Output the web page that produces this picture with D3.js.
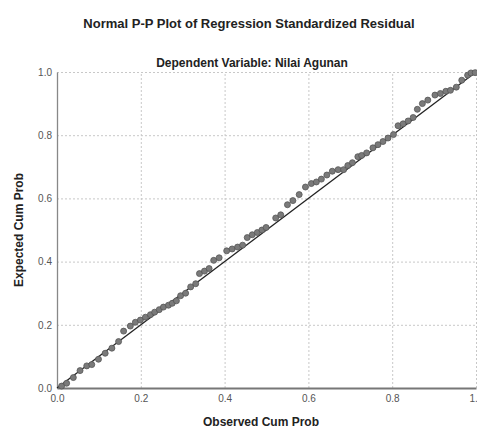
<!DOCTYPE html>
<html>
<head>
<meta charset="utf-8">
<script src="https://cdn.jsdelivr.net/npm/d3@7"></script>
<style>
  body { margin: 0; background: #fff; }
  text { font-family: "Liberation Sans", Arial, sans-serif; }
  .grid line { stroke: #c8c8c8; stroke-dasharray: 2,2; }
  .grid .domain { display: none; }
  .tick text { fill: #555; font-size: 10px; }
</style>
</head>
<body>
<div id="chart-area"></div>
<script>

// SVG size
var width = 477,
	height = 429;

// tick values on both axes
var tickValues = [0, 0.2, 0.4, 0.6, 0.8, 1.0];

// observed cum prob (x) and expected cum prob (y)
var observed = [0.011, 0.023, 0.039, 0.055, 0.071, 0.083, 0.099, 0.115, 0.131, 0.147,
	0.159, 0.175, 0.187, 0.199, 0.211, 0.223, 0.233, 0.244, 0.254, 0.266,
	0.275, 0.285, 0.295, 0.307, 0.319, 0.331, 0.340, 0.352, 0.363, 0.374,
	0.387, 0.405, 0.418, 0.431, 0.443, 0.454, 0.466, 0.478, 0.489, 0.499,
	0.522, 0.534, 0.550, 0.563, 0.578, 0.593, 0.607, 0.619, 0.631, 0.644,
	0.657, 0.671, 0.684, 0.694, 0.705, 0.718, 0.727, 0.739, 0.754, 0.766,
	0.778, 0.790, 0.803, 0.814, 0.826, 0.838, 0.850, 0.860, 0.872, 0.885,
	0.902, 0.915, 0.928, 0.939, 0.953, 0.966, 0.980, 0.988, 0.998];

var expected = [0.006, 0.015, 0.033, 0.055, 0.070, 0.074, 0.091, 0.110, 0.126, 0.147,
	0.180, 0.196, 0.208, 0.215, 0.224, 0.232, 0.240, 0.248, 0.256, 0.262,
	0.268, 0.276, 0.292, 0.300, 0.320, 0.330, 0.362, 0.370, 0.378, 0.404,
	0.412, 0.434, 0.440, 0.446, 0.452, 0.476, 0.485, 0.492, 0.500, 0.508,
	0.538, 0.548, 0.580, 0.593, 0.612, 0.636, 0.647, 0.652, 0.661, 0.674,
	0.686, 0.691, 0.691, 0.704, 0.713, 0.732, 0.736, 0.744, 0.760, 0.770,
	0.780, 0.791, 0.802, 0.830, 0.836, 0.845, 0.856, 0.882, 0.900, 0.911,
	0.927, 0.932, 0.939, 0.942, 0.952, 0.974, 0.990, 0.997, 0.998];

var points = observed.map(function (d, i) {
	return {x: d, y: expected[i]};
});

var margin = {top: 72, right: 1, bottom: 41, left: 57};
var w = width - margin.left - margin.right,
	h = height - margin.top - margin.bottom;

var svg = d3.select("#chart-area")
	.append("svg")
	.attr("width", width)
	.attr("height", height);

var g = svg.append("g")
	.attr("transform", "translate(" + margin.left + "," + margin.top + ")");

var xScale = d3.scaleLinear().domain([0, 1]).range([0, w]);
var yScale = d3.scaleLinear().domain([0, 1]).range([h, 0]);

// gridlines
g.append("g")
	.attr("class", "grid")
	.attr("transform", "translate(0," + h + ")")
	.call(d3.axisBottom(xScale).tickValues(tickValues.slice(1)).tickSize(-h).tickFormat(""));

g.append("g")
	.attr("class", "grid")
	.call(d3.axisLeft(yScale).tickValues(tickValues.slice(1)).tickSize(-w).tickFormat(""));

// axes
var xAxis = g.append("g")
	.attr("transform", "translate(0," + h + ")")
	.call(d3.axisBottom(xScale).tickValues(tickValues).tickSize(0).tickPadding(7)
		.tickFormat(d3.format(".1f")));
xAxis.select(".domain").attr("stroke", "#777").attr("stroke-width", 2);

var yAxis = g.append("g")
	.call(d3.axisLeft(yScale).tickValues(tickValues).tickSize(0).tickPadding(5)
		.tickFormat(d3.format(".1f")));
yAxis.select(".domain").attr("stroke", "#888").attr("stroke-width", 1.3);

// reference line
g.append("line")
	.attr("x1", xScale(0)).attr("y1", yScale(0))
	.attr("x2", xScale(1)).attr("y2", yScale(1))
	.attr("stroke", "#222")
	.attr("stroke-width", 1.3);

// points
g.selectAll("circle").data(points).enter()
	.append("circle")
	.attr("cx", function (d) {return xScale(d.x)})
	.attr("cy", function (d) {return yScale(d.y)})
	.attr("r", 3)
	.attr("fill", "#7a7a7a")
	.attr("stroke", "#555")
	.attr("stroke-width", 0.8);

// titles
svg.append("text")
	.attr("x", 249).attr("y", 28)
	.attr("text-anchor", "middle")
	.attr("font-size", "13px").attr("font-weight", "bold").attr("fill", "#222")
	.text("Normal P-P Plot of Regression Standardized Residual");

svg.append("text")
	.attr("x", 252).attr("y", 67)
	.attr("text-anchor", "middle")
	.attr("font-size", "12px").attr("font-weight", "bold").attr("fill", "#222")
	.text("Dependent Variable: Nilai Agunan");

svg.append("text")
	.attr("x", 261).attr("y", 426)
	.attr("text-anchor", "middle")
	.attr("font-size", "12px").attr("font-weight", "bold").attr("fill", "#222")
	.text("Observed Cum Prob");

svg.append("text")
	.attr("transform", "translate(23,230) rotate(-90)")
	.attr("text-anchor", "middle")
	.attr("font-size", "12px").attr("font-weight", "bold").attr("fill", "#222")
	.text("Expected Cum Prob");

</script>
</body>
</html>
